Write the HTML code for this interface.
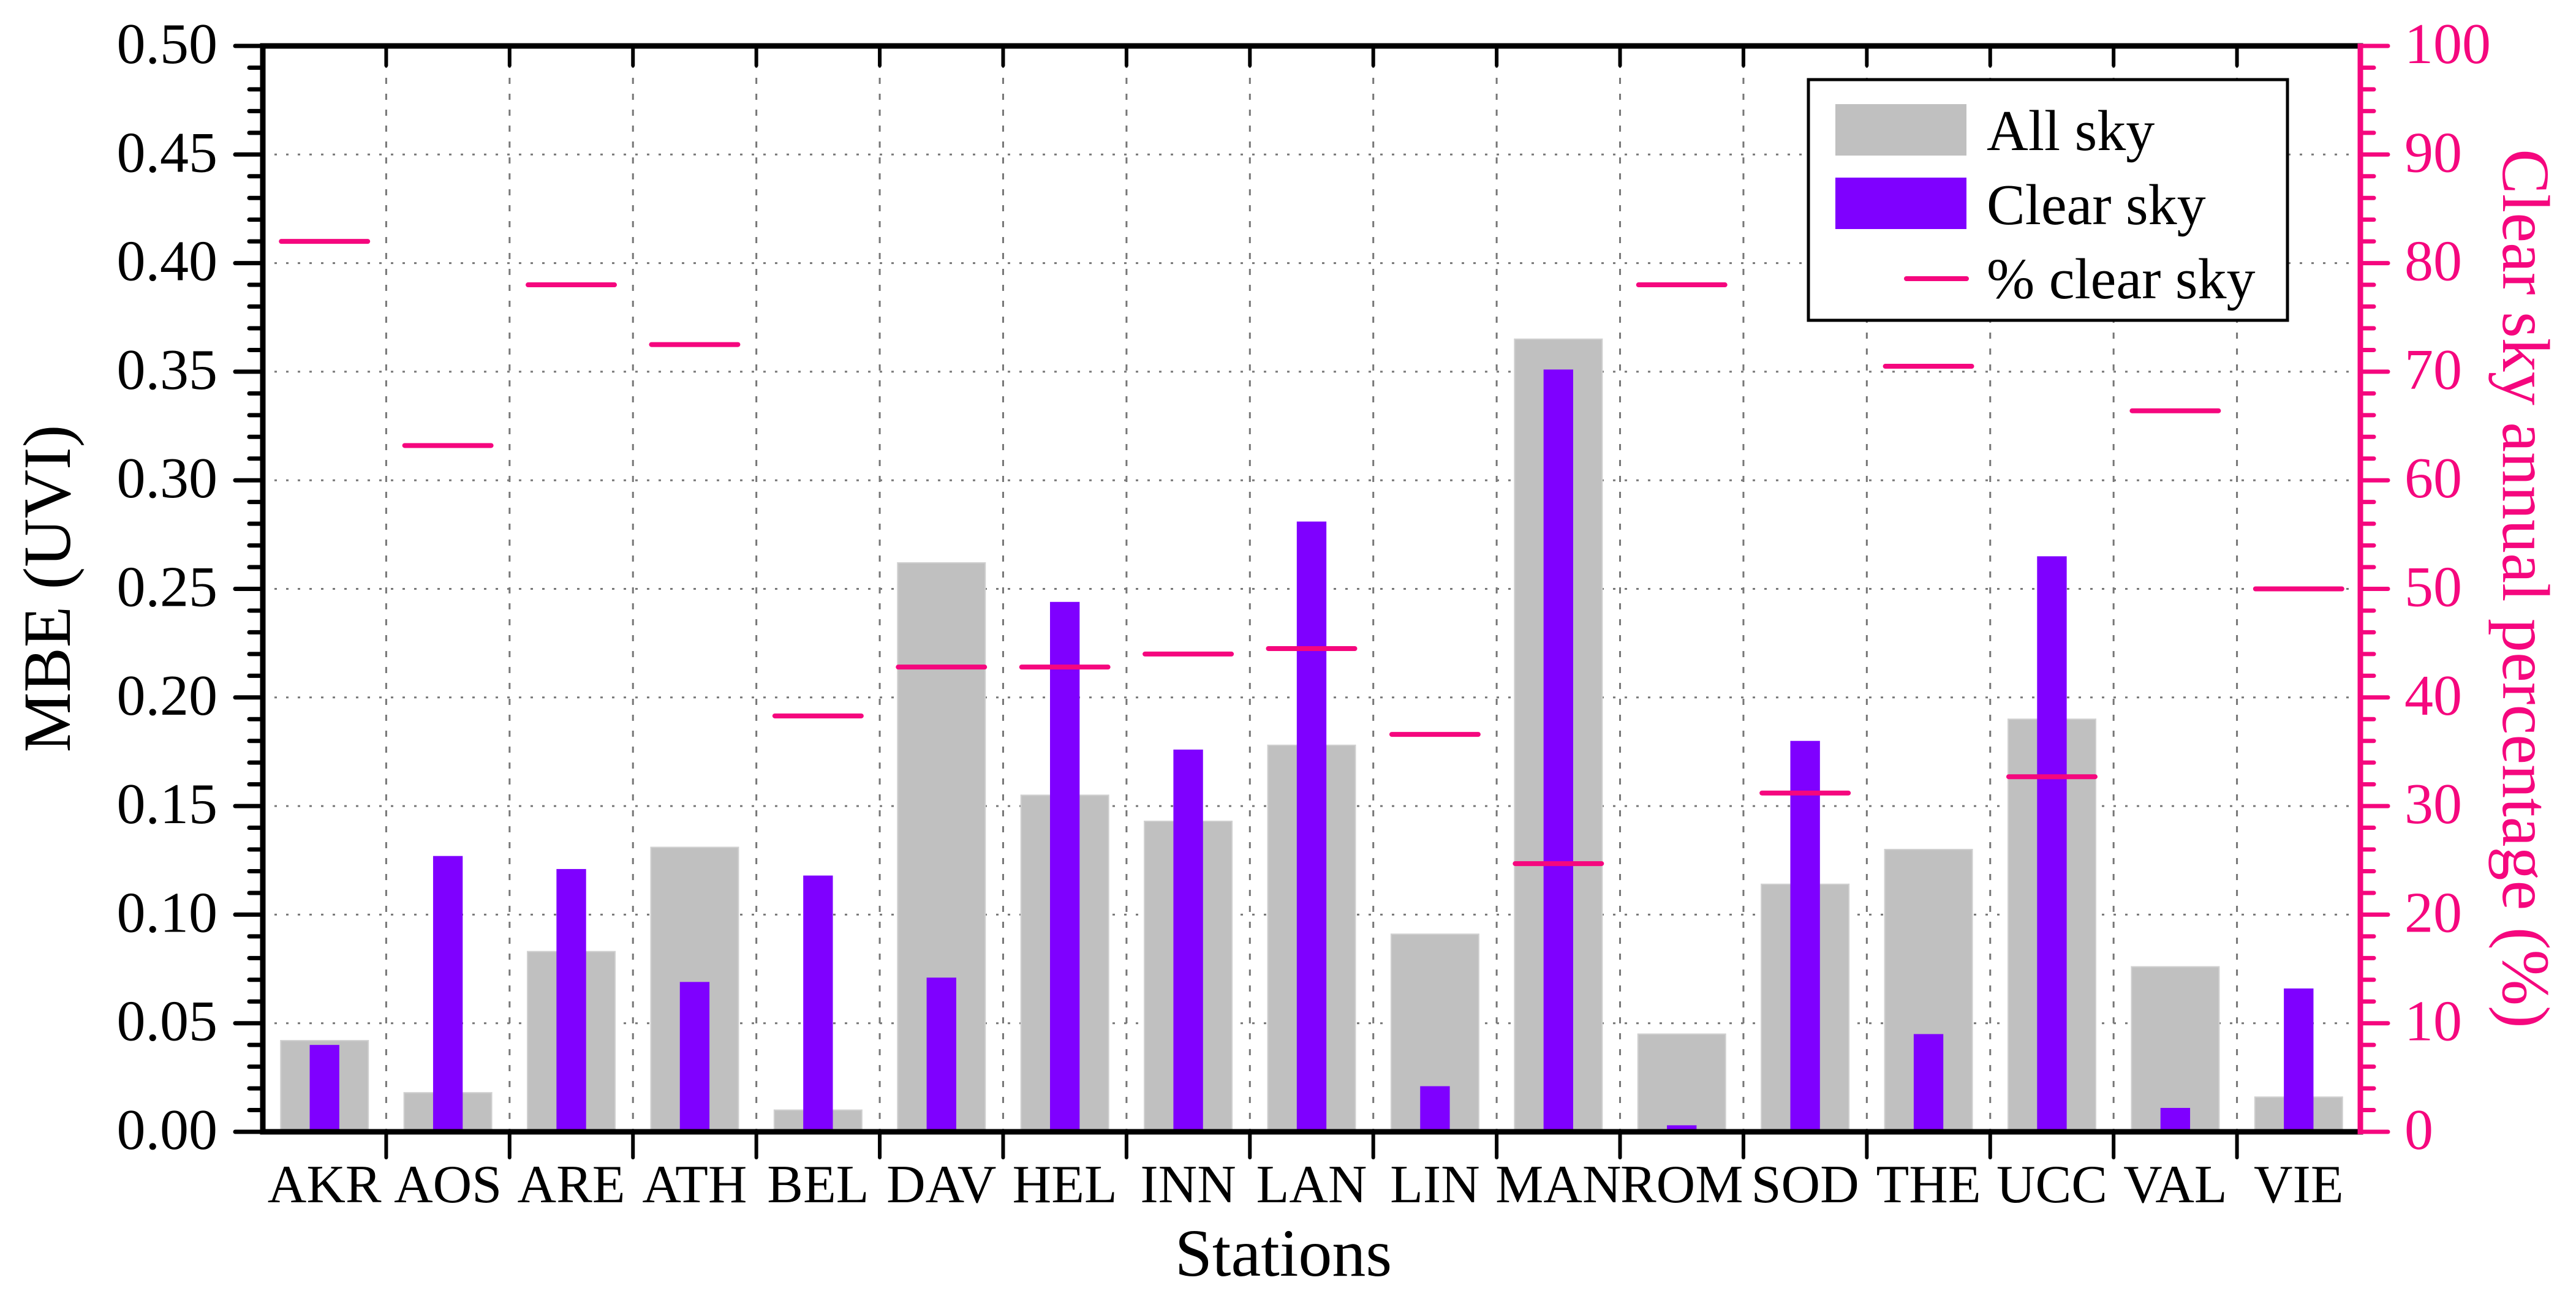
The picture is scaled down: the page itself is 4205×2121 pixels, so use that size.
<!DOCTYPE html>
<html><head><meta charset="utf-8"><style>
html,body{margin:0;padding:0;background:#fff;}
svg{display:block;font-family:"Liberation Serif","Times New Roman",serif;}
</style></head><body>
<svg id="chart" width="4205" height="2121" viewBox="0 0 4205 2121" xmlns="http://www.w3.org/2000/svg">
<g id="grid"></g>
<g id="bars"></g>
<g id="pinks"></g>
<g id="axes"></g>
<text transform="translate(114,961) rotate(-90)" text-anchor="middle" font-size="110">MBE (UVI)</text>
<text fill="#F5077E" transform="translate(4086,961) rotate(90)" text-anchor="middle" font-size="110">Clear sky annual percentage (%)</text>
<text x="2095" y="2083" text-anchor="middle" font-size="110">Stations</text>
<g>
<rect x="2952" y="130" width="782" height="393" fill="#fff" stroke="#000" stroke-width="5"/>
<rect x="2996" y="170" width="214" height="84" fill="#C0C0C0"/>
<text x="3243" y="245" font-size="94">All sky</text>
<rect x="2996" y="290" width="214" height="84" fill="#7F00FF"/>
<text x="3243" y="366" font-size="94">Clear sky</text>
<line x1="3112" y1="455" x2="3210" y2="455" stroke="#F5077E" stroke-width="8" stroke-linecap="round"/>
<text x="3243" y="487" font-size="94">% clear sky</text>
</g>
</svg>
<script>
const categories = ["AKR","AOS","ARE","ATH","BEL","DAV","HEL","INN","LAN","LIN","MAN","ROM","SOD","THE","UCC","VAL","VIE"];
const allSky = [0.042,0.018,0.083,0.131,0.010,0.262,0.155,0.143,0.178,0.091,0.365,0.045,0.114,0.130,0.190,0.076,0.016];
const clearSky = [0.040,0.127,0.121,0.069,0.118,0.071,0.244,0.176,0.281,0.021,0.351,0.003,0.180,0.045,0.265,0.011,0.066];
const clearPct = [82,63.2,78,72.5,38.3,42.8,42.8,44,44.5,36.6,24.7,78,31.2,70.5,32.7,66.4,50];
const yTicks = ["0.00","0.05","0.10","0.15","0.20","0.25","0.30","0.35","0.40","0.45","0.50"];
const y2Ticks = ["0","10","20","30","40","50","60","70","80","90","100"];

const NS="http://www.w3.org/2000/svg";
const L=429,R=3853,T=75,B=1848;
const pink="#F5077E";
const bw=(R-L)/categories.length;
const yS=v=>B-(v/0.5)*(B-T);
const y2S=v=>B-(v/100)*(B-T);
const xC=i=>L+bw*(i+0.5);
function mk(tag,attrs,parent){const e=document.createElementNS(NS,tag);for(const k in attrs)e.setAttribute(k,attrs[k]);parent.appendChild(e);return e;}
const grid=document.getElementById('grid'),bars=document.getElementById('bars'),pinks=document.getElementById('pinks'),axes=document.getElementById('axes');

for(let i=1;i<categories.length;i++){
  const x=L+bw*i;
  const g=mk('line',{x1:x,y1:T,x2:x,y2:B,stroke:'#777','stroke-width':3,'stroke-dasharray':'10 16'},grid);
  
  
}
for(let i=1;i<yTicks.length-1;i++){
  const y=yS(parseFloat(yTicks[i]));
  const g=mk('line',{x1:L,y1:y,x2:R,y2:y,stroke:'#777','stroke-width':3,'stroke-dasharray':'4 15'},grid);
  
  
}
categories.forEach((c,i)=>{
  const gw=bw*0.71,pw=bw*0.24;
  const g=mk('rect',{x:xC(i)-gw/2,y:yS(allSky[i]),width:gw,height:B-yS(allSky[i]),fill:'#C0C0C0',stroke:'#D0D0D0','stroke-width':2},bars);
  
  
  const p=mk('rect',{x:xC(i)-pw/2,y:yS(clearSky[i]),width:pw,height:B-yS(clearSky[i]),fill:'#7F00FF'},bars);
  
  
  const lw=bw*0.7;
  const m=mk('line',{x1:xC(i)-lw/2,y1:y2S(clearPct[i]),x2:xC(i)+lw/2,y2:y2S(clearPct[i]),stroke:pink,'stroke-width':8,'stroke-linecap':'round'},pinks);
  
  
  const t=mk('text',{x:xC(i),y:1963,'text-anchor':'middle','font-size':88},axes);
  t.textContent=c;
  
  
});
const fr=mk('path',{d:`M${L} ${T} H${R} M${L} ${T} V${B} H${R}`,stroke:'#000','stroke-width':9,fill:'none','stroke-linecap':'square'},axes);


const ra=mk('line',{x1:R,y1:T-4,x2:R,y2:B+4,stroke:pink,'stroke-width':9},axes);


for(let i=1;i<categories.length;i++){
  const x=L+bw*i;
  const a=mk('line',{x1:x,y1:B,x2:x,y2:B+42,stroke:'#000','stroke-width':6,'stroke-linecap':'round'},axes);
  
  
  const b=mk('line',{x1:x,y1:T,x2:x,y2:T+32,stroke:'#000','stroke-width':6,'stroke-linecap':'round'},axes);
  
  
}
for(let k=0;k<=50;k++){
  const y=yS(k*0.01), major=k%5===0;
  const a=mk('line',{x1:major?L-45:L-22,y1:y,x2:L,y2:y,stroke:'#000','stroke-width':7,'stroke-linecap':'round'},axes);
  
  
  const yy=y2S(k*2);
  const b=mk('line',{x1:R,y1:yy,x2:major?R+45:R+22,y2:yy,stroke:pink,'stroke-width':7,'stroke-linecap':'round'},axes);
  
  
}
yTicks.forEach(s=>{
  const t=mk('text',{x:355,y:yS(parseFloat(s))+28,'text-anchor':'end','font-size':94},axes);
  t.textContent=s;
  
  
});
y2Ticks.forEach(s=>{
  const t=mk('text',{x:3925,y:y2S(parseFloat(s))+28,'text-anchor':'start','font-size':94,fill:pink},axes);
  t.textContent=s;
  
  
});
</script>
</body></html>
